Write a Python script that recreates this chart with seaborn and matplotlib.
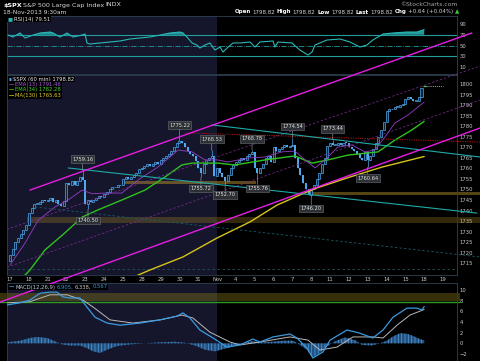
import numpy as np
import pandas as pd
import matplotlib
matplotlib.use("Agg")
import matplotlib.pyplot as plt
import seaborn as sns

# ---------------- data ----------------
day_labels = ['17', '18', '21', '22', '23', '24', '25', '28', '29', '30', '31', 'Nov',
              '4', '5', '6', '7', '8', '11', '12', '13', '14', '15', '18', '19']
bars_per_day = 7

# hourly closes, 17-Oct 9:30 .. 18-Nov 9:30
closes = [
    1719, 1722, 1725, 1727, 1729, 1731, 1733.2,
    1739, 1741, 1743, 1743, 1744, 1745, 1744.5,
    1745, 1746, 1744, 1745, 1743, 1742, 1744.7,
    1753, 1752, 1754, 1752, 1754, 1756, 1754.7,
    1743, 1745, 1744, 1745, 1746, 1747, 1746.4,
    1748, 1749, 1750, 1751, 1751, 1752, 1752.1,
    1755, 1756, 1755, 1756, 1757, 1758, 1759.8,
    1760, 1761, 1762, 1761, 1762, 1763, 1762.1,
    1764, 1765, 1766, 1767, 1768, 1770, 1772.0,
    1773, 1772, 1770, 1768, 1767, 1766, 1763.3,
    1760, 1758, 1762, 1764, 1765, 1766, 1756.5,
    1760, 1758, 1756, 1754, 1757, 1760, 1761.6,
    1763, 1764, 1765, 1764, 1766, 1767, 1767.9,
    1760, 1758, 1760, 1762, 1765, 1766, 1763.0,
    1770, 1768, 1769, 1770, 1771, 1770, 1770.5,
    1771, 1765, 1760, 1757, 1753, 1750, 1747.2,
    1750, 1752, 1755, 1758, 1762, 1765, 1770.6,
    1772, 1771, 1771, 1772, 1771, 1772, 1771.9,
    1770, 1769, 1768, 1767, 1765, 1764, 1767.7,
    1764, 1766, 1769, 1772, 1775, 1778, 1782.0,
    1787, 1788, 1788, 1789, 1789, 1790, 1790.6,
    1793, 1794, 1793, 1792, 1792, 1794, 1798.2,
    1798.82,
]
first_open = 1716.0
last_price = 1798.82

# labelled swing highs / lows
marked_bars = [27, 29, 63, 71, 75, 80, 90, 92, 105, 112, 120, 133]
marked_prices = [1759.16, 1740.50, 1775.22, 1755.72, 1768.53, 1752.70,
                 1768.78, 1755.76, 1774.54, 1746.20, 1773.44, 1760.64]
marked_side = ['hi', 'lo', 'hi', 'lo', 'hi', 'lo', 'hi', 'lo', 'hi', 'lo', 'hi', 'lo']

# overlays (bar position, value)
ema13_x = [0, 5.6, 10.4, 16.7, 21.6, 26.8, 30.5, 35.3, 41.6, 47.6, 55, 62.5, 67.7, 72.5, 77.3, 81,
           88.5, 94.8, 101.1, 105.9, 109.7, 113.4, 117.1, 121.9, 127.1, 132, 135.7, 139.4, 143.1, 148, 154]
ema13_y = [1714.2, 1724.6, 1735.3, 1741.7, 1745.0, 1749.7, 1748.0, 1748.3, 1748.3, 1754.5, 1760.6,
           1768.7, 1767.8, 1764.0, 1764.0, 1763.0, 1764.9, 1765.4, 1767.8, 1768.2, 1764.0, 1760.2,
           1764.0, 1770.1, 1771.1, 1767.8, 1768.7, 1774.9, 1781.5, 1785.3, 1791.46]
ema34_x = [-1.1, 5.6, 7.4, 13, 20.4, 26.8, 32.7, 41.6, 50.2, 57.6, 63.9, 67.7, 77.3, 83.6, 94.8,
           105.9, 112.3, 118.2, 125.7, 133.1, 136.8, 143.1, 149.4, 154]
ema34_y = [1704, 1709.4, 1711.8, 1721.3, 1729.4, 1736.9, 1740.3, 1745.0, 1749.7, 1755.9, 1761.6,
           1762.5, 1762.5, 1761.6, 1764.0, 1765.9, 1762.5, 1764.0, 1766.3, 1767.3, 1767.8, 1773.4,
           1778.2, 1782.28]
ma130_x = [40.9, 47.6, 52, 64.3, 77, 89.2, 99.3, 107.8, 114.1, 126.4, 138.3, 154]
ma130_y = [1704.7, 1709.4, 1711.8, 1718.0, 1727.0, 1734.6, 1742.6, 1747.4, 1750.7, 1755.9, 1760.6, 1765.63]

rsi_x = [-0.7, 1.1, 3.7, 5.6, 8.6, 11.2, 14.9, 16, 18.6, 21.2, 23.4, 26.8, 27.9, 28.6, 29.7, 33.5,
         37.2, 40.9, 44.6, 48.3, 52, 55.8, 59.5, 63.2, 64.3, 65.8, 67.7, 69.5, 70.6, 72.5, 74.3, 76.2,
         78.1, 79.2, 80.7, 82.9, 85.5, 89.2, 91.1, 92.9, 97.8, 98.5, 99.6, 104.8, 107.8, 110.8, 112.3,
         113.4, 117.8, 122.7, 126.4, 130.1, 132.7, 134.9, 138.7, 142.4, 147.6, 151.3, 154]
rsi_y = [69.5, 65.8, 73.3, 64, 69.5, 73.3, 75.1, 73.3, 65.8, 73.3, 65.8, 69.5, 71.4, 54.7, 52.8, 54.7,
         56.5, 58.4, 62.1, 64, 65.8, 69.5, 73.3, 75.1, 73.3, 65.8, 54.7, 50.9, 45.3, 50.9, 54.7, 41.6,
         47.2, 37.9, 45.3, 54.7, 54.7, 56.5, 47.2, 56.5, 58.4, 47.2, 56.5, 54.7, 41.6, 32.3, 37.9,
         50.9, 60.2, 62.1, 56.5, 47.2, 50.9, 60.2, 71.4, 73.3, 75.1, 75.1, 79.51]

macd_x = [-1.1, 3.7, 7.4, 11.2, 14.9, 17.5, 19.7, 22.3, 26, 28.6, 31.6, 36.1, 40.9, 48.3, 55.8, 62.1,
          64.3, 66.9, 70.6, 75.5, 80.7, 85.5, 90.3, 92.9, 97.8, 104.1, 106.7, 110.4, 112.6, 116.4, 119,
          125.3, 130.1, 134.9, 138.7, 142.4, 147.6, 151.3, 153.2, 154]
macd_y = [7.2, 7.6, 8.1, 9.4, 9.6, 9.6, 8.7, 8.5, 8.5, 6.8, 4.9, 3.8, 3.4, 3.8, 4.4, 5.1,
          5.7, 4.75, 2.5, 1.0, -0.7, -0.3, 0.8, 0.25, 1.2, 1.75, 1.0, -0.9, -2.75, -1.6, 0.6,
          2.5, 1.9, 1.0, 2.5, 4.9, 6.6, 6.6, 6.25, 6.905]
signal_x = [-1.1, 7.4, 14.9, 21.2, 27.1, 30.9, 37.2, 45.7, 55.8, 63.9, 68, 74.3, 81.8, 85.5, 92.9,
            104.1, 110.8, 115.2, 121.6, 127.5, 134.9, 138.7, 143.9, 148.7, 154]
signal_y = [7.6, 7.8, 9.1, 9.1, 8.1, 6.8, 4.4, 3.8, 4.4, 5.3, 4.75, 2.1, 0.25, -0.3, 0.25,
            1.2, 0.6, -1.25, -0.7, 1.2, 1.2, 1.0, 3.4, 5.3, 6.338]
hist_x = [-1.1, 3.7, 7.4, 10, 13.8, 16.7, 19.3, 22.3, 26, 28.6, 30.9, 33.5, 36.1, 39.8, 44.6, 50.2,
          55.8, 61.3, 65.1, 68.8, 72.5, 76.2, 79.9, 83.6, 87.4, 90, 93.7, 97.4, 101.5, 105.2, 107.8,
          110.4, 112.6, 115.2, 117.8, 120.8, 124.5, 128.3, 130.9, 134.6, 137.5, 140.1, 142.4, 145,
          147.6, 149.8, 152.4, 154]
hist_y = [0.2, 0.5, 1.0, 1.2, 1.0, 0.4, -0.2, -0.4, -0.4, -0.9, -1.5, -1.8, -1.2, -0.5, -0.2, 0.0,
          0.2, 0.3, 0.1, -0.4, -1.2, -1.5, -1.0, -0.5, 0.1, 0.4, 0.2, 0.3, 0.5, 0.5, -0.3,
          -1.2, -2.6, -1.8, -0.6, 0.4, 1.1, 0.6, -0.3, -0.4, 0.0, 0.5, 1.3, 1.9,
          1.8, 1.4, 0.8, 0.567]

# annotation lines drawn on the chart: (x0, x1), (y0, y1)
trend_upper_magenta = ([7.4, 171.7], [1749.7, 1824.2])
trend_lower_magenta = ([-3.7, 174.7], [1696.6, 1779.1])
trend_upper_cyan = ([75.1, 174.7], [1780.6, 1765.4])
trend_mid_cyan = ([21.6, 173.6], [1760.2, 1738.8])
trend_teal_dash = ([9.3, 174.7], [1741.7, 1718.0])
trend_red_dot = ([65.1, 174.7], [1776.8, 1772.5])
trend_purple_a = ([-1.1, 174.7], [1731.1, 1808.5])
trend_purple_b = ([-1.1, 174.7], [1713.1, 1792.4])
band_upper = ([41.6, 91.4], [1752.4, 1753.8])
band_mid = ([111.5, 174.7], [1747.6, 1748.8])
band_low = ([6.3, 174.7], [1734.1, 1736.9])
band_macd = ([-3.7, 167.3], [7.94, 9.44])
macd_zone_line = 7.75
floor_line = 1712.3

# ---------------- style ----------------
sns.set_theme(style="dark", rc={
    'figure.facecolor': 'black', 'axes.facecolor': 'black',
    'axes.edgecolor': '#2f4152', 'axes.linewidth': 0.6, 'axes.grid': False,
    'text.color': '#d0d0d0', 'xtick.color': '#c8c8c8', 'ytick.color': '#c8c8c8',
})
plt.rcParams['font.family'] = ['Liberation Sans Narrow', 'DejaVu Sans']
plt.rcParams['hatch.linewidth'] = 0.6

NAVY = '#15162b'
CANDLE = '#4ea8ee'
TICK_SIZE = 3.8

W, H = 480, 361
fig = plt.figure(figsize=(4.8, 3.61), dpi=100, facecolor='black')


def panel(top, bottom, z):
    return fig.add_axes([7 / W, 1 - bottom / H, 450 / W, (bottom - top) / H], zorder=z)


ax_rsi = panel(16, 74, 1)
ax_macd = panel(283, 361, 1)
ax = panel(75, 275, 3)
ax.patch.set_alpha(0)

nbars = len(closes)
xmin, xmax = -1.12, 166.2
nov_start = day_labels.index('Nov') * bars_per_day

for a in (ax_rsi, ax, ax_macd):
    a.set_xlim(xmin, xmax)
    a.axvspan(xmin, nov_start, color=NAVY, zorder=0, lw=0)
    a.yaxis.tick_right()
    a.tick_params(axis='both', length=0, labelsize=TICK_SIZE, pad=2)
    for s in a.spines.values():
        s.set_color('#2f4152')
        s.set_linewidth(0.6)

ax_rsi.set_xticks([])
ax_macd.set_xticks([])
ax.set_xticks(np.arange(len(day_labels)) * bars_per_day)
ax.set_xticklabels(day_labels)
ax.tick_params(axis='x', pad=1.2)

# ---------------- RSI panel ----------------
ax_rsi.set_ylim(-3, 104.9)
ax_rsi.set_yticks([10, 30, 50, 70, 90])
rx, ry = np.array(rsi_x), np.array(rsi_y)
ax_rsi.fill_between(rx, ry, 70, where=ry > 70, interpolate=True, color='#229a9a', lw=0, zorder=2)
sns.lineplot(x=rx, y=ry, ax=ax_rsi, color='#2ab7b7', lw=0.8, zorder=3)
ax_rsi.axhline(70, color='#1f9c9c', lw=0.8, zorder=2)
ax_rsi.axhline(30, color='#1f9c9c', lw=0.8, zorder=2)
ax_rsi.axhline(50, color='#1f9c9c', lw=0.6, ls='-.', zorder=2)
ax_rsi.set_xlabel('')
ax_rsi.set_ylabel('')

# ---------------- price panel ----------------
ax.set_ylim(1709.44, 1804.27)
ax.set_yticks(np.arange(1715, 1801, 5))

# bands and horizontal guides
for (bx, by), col, al in [(band_low, '#a88a24', 0.3), (band_upper, '#a8862a', 0.55), (band_mid, '#8f7420', 0.6)]:
    poly = ax.fill_between(bx, by[0], by[1], color=col, alpha=al, lw=0, zorder=1)
    poly.set_clip_on(False)
ax.axhline(floor_line, color='#24505c', lw=0.6, ls=(0, (3, 3)), zorder=1)

idx = np.arange(nbars - 1)
c = np.array(closes[:-1], dtype=float)
o = np.r_[first_open, c[:-1]]
hi = np.maximum(o, c)
lo = np.minimum(o, c)
for b, p, s in zip(marked_bars, marked_prices, marked_side):
    if s == 'hi':
        hi[b] = max(hi[b], p)
    else:
        lo[b] = min(lo[b], p)
up = c >= o
body = np.where(np.abs(c - o) < 0.35, 0.35, c - o)
ax.vlines(idx, lo, hi, color=CANDLE, lw=0.5, zorder=4)
ax.bar(idx[up], body[up], bottom=o[up], width=0.75, facecolor='#0d2236', edgecolor=CANDLE, lw=0.5, zorder=5)
ax.bar(idx[~up], body[~up], bottom=o[~up], width=0.75, color=CANDLE, lw=0, zorder=5)
# last (single print) bar and its price marker
last_label_pos = (len(day_labels) - 1) * bars_per_day
ax.hlines(last_price, nbars - 1.5, nbars - 0.5, color='#33dd33', lw=0.9, zorder=6)
ax.hlines(last_price, nbars - 0.5, last_label_pos, color='#dddddd', lw=0.5, ls=(0, (1.5, 1.5)), zorder=6)

# moving averages
sns.lineplot(x=ma130_x, y=ma130_y, ax=ax, color='#d6c41c', lw=1.0, zorder=6)
sns.lineplot(x=ema34_x, y=ema34_y, ax=ax, color='#2fc21f', lw=1.0, zorder=6)
sns.lineplot(x=ema13_x, y=ema13_y, ax=ax, color='#9440c8', lw=0.6, zorder=6)
ax.set_xlabel('')
ax.set_ylabel('')

# trend lines
for (tx, ty), col, lw, ls in [
        (trend_purple_a, '#7d2c95', 0.55, (0, (3, 2.5))),
        (trend_purple_b, '#7d2c95', 0.55, (0, (3, 2.5))),
        (trend_teal_dash, '#1c5b66', 0.6, (0, (3, 2.5))),
        (trend_red_dot, '#b21414', 0.7, (0, (1.2, 1.2))),
        (trend_upper_cyan, '#1fa9a9', 0.8, '-'),
        (trend_mid_cyan, '#1fa9a9', 0.8, '-'),
        (trend_upper_magenta, '#e51ee5', 1.0, '-'),
        (trend_lower_magenta, '#e51ee5', 1.0, '-')]:
    ln, = ax.plot(tx, ty, color=col, lw=lw, ls=ls, zorder=7)
    ln.set_clip_on(False)

# swing labels
for b, p, s in zip(marked_bars, marked_prices, marked_side):
    dy = 8 if s == 'hi' else -8
    ax.annotate(f'{p:.2f}', xy=(b, p), xytext=(0, dy), textcoords='offset points',
                ha='center', va='center', fontsize=3.7, color='#e0e0e0', zorder=9,
                bbox=dict(boxstyle='square,pad=0.25', fc='#2c2f33', ec='#6c7278', lw=0.4),
                arrowprops=dict(arrowstyle='-', color='#8a8a8a', lw=0.5, shrinkA=0, shrinkB=0))

# ---------------- MACD panel ----------------
ax_macd.set_ylim(-3.31, 11.31)
ax_macd.set_yticks(np.arange(-2, 11, 2))
mb = ax_macd.fill_between(band_macd[0], band_macd[1][0], band_macd[1][1], color='#7a6c18', alpha=0.45, lw=0, zorder=1)
mb.set_clip_on(False)
ml, = ax_macd.plot(band_macd[0], [macd_zone_line] * 2, color='#2f9a1f', lw=1.0, zorder=1)
ml.set_clip_on(False)
ax_macd.fill_between(hist_x, 0, hist_y, facecolor='#23507c', edgecolor='#4b94d6', hatch='|||||', lw=0, zorder=2)
sns.lineplot(x=signal_x, y=signal_y, ax=ax_macd, color='#b8b8b8', lw=0.7, zorder=3)
sns.lineplot(x=macd_x, y=macd_y, ax=ax_macd, color='#3a9ae0', lw=0.9, zorder=4)
ax_macd.set_xlabel('')
ax_macd.set_ylabel('')

# ---------------- texts ----------------
renderer = fig.canvas.get_renderer()


def run(x_px, y_px, pieces, size, bg=None, gap=1.2, right=False):
    texts = []
    x = 0.0
    for txt, col, weight in pieces:
        t = fig.text(x / W, 1 - y_px / H, txt, color=col, fontsize=size, fontweight=weight,
                     va='center', ha='left', zorder=20,
                     bbox=None if bg is None else dict(boxstyle='square,pad=0.1', fc=bg, ec='none'))
        texts.append(t)
        x = t.get_window_extent(renderer).x1 + gap
    shift = (x_px - (x - gap)) if right else x_px
    for t in texts:
        px, py = t.get_position()
        t.set_position((px + shift / W, py))


run(3, 5, [('$SPX', 'white', 'bold'), ('S&P 500 Large Cap Index', '#d8d8d8', 'normal'),
           ('INDX', '#d8d8d8', 'normal')], 4.6)
run(3, 12, [('18-Nov-2013 9:30am', '#d8d8d8', 'normal')], 4.3)
val = '1798.82'
run(459, 12, [('Open', 'white', 'bold'), (val, '#d0d0d0', 'normal'),
              ('High', 'white', 'bold'), (val, '#d0d0d0', 'normal'),
              ('Low', 'white', 'bold'), (val, '#d0d0d0', 'normal'),
              ('Last', 'white', 'bold'), (val, '#d0d0d0', 'normal'),
              ('Chg', 'white', 'bold'), ('+0.64 (+0.04%)', '#d0d0d0', 'normal'),
              ('\u25b2', '#33cc33', 'normal')], 4.0, gap=1.6, right=True)
fig.text(457 / W, 1 - 5 / H, '\u00a9StockCharts.com', color='#a8a8a8', fontsize=4.3,
         ha='right', va='center')

run(8, 19, [('\u25a0', '#2ab7b7', 'normal'), ('RSI(14) 79.51', '#e0e0e0', 'normal')], 3.8, bg='black')
run(9, 79, [('\u25ae', CANDLE, 'normal'), ('$SPX (60 min) 1798.82', '#e8e8e8', 'normal')], 3.8, bg='black')
run(9, 84.5, [('\u2014', '#9440c8', 'bold'), ('EMA(13) 1791.46', '#a55ad6', 'normal')], 3.8, bg='black')
run(9, 90, [('\u2014', '#2fc21f', 'bold'), ('EMA(34) 1782.28', '#3fd22f', 'normal')], 3.8, bg='black')
run(9, 95.5, [('\u2014', '#d6c41c', 'bold'), ('MA(130) 1765.63', '#e0ce2a', 'normal')], 3.8, bg='black')
run(9, 287, [('\u2014', '#3a9ae0', 'bold'), ('MACD(12,26,9)', '#bcd0e0', 'normal'),
             ('6.905,', '#3a9ae0', 'normal'), ('6.338,', '#c8c8c8', 'normal'),
             ('0.567', '#3a9ae0', 'normal')], 3.8, bg='black')

fig.savefig('out.png', dpi=100, facecolor='black')
